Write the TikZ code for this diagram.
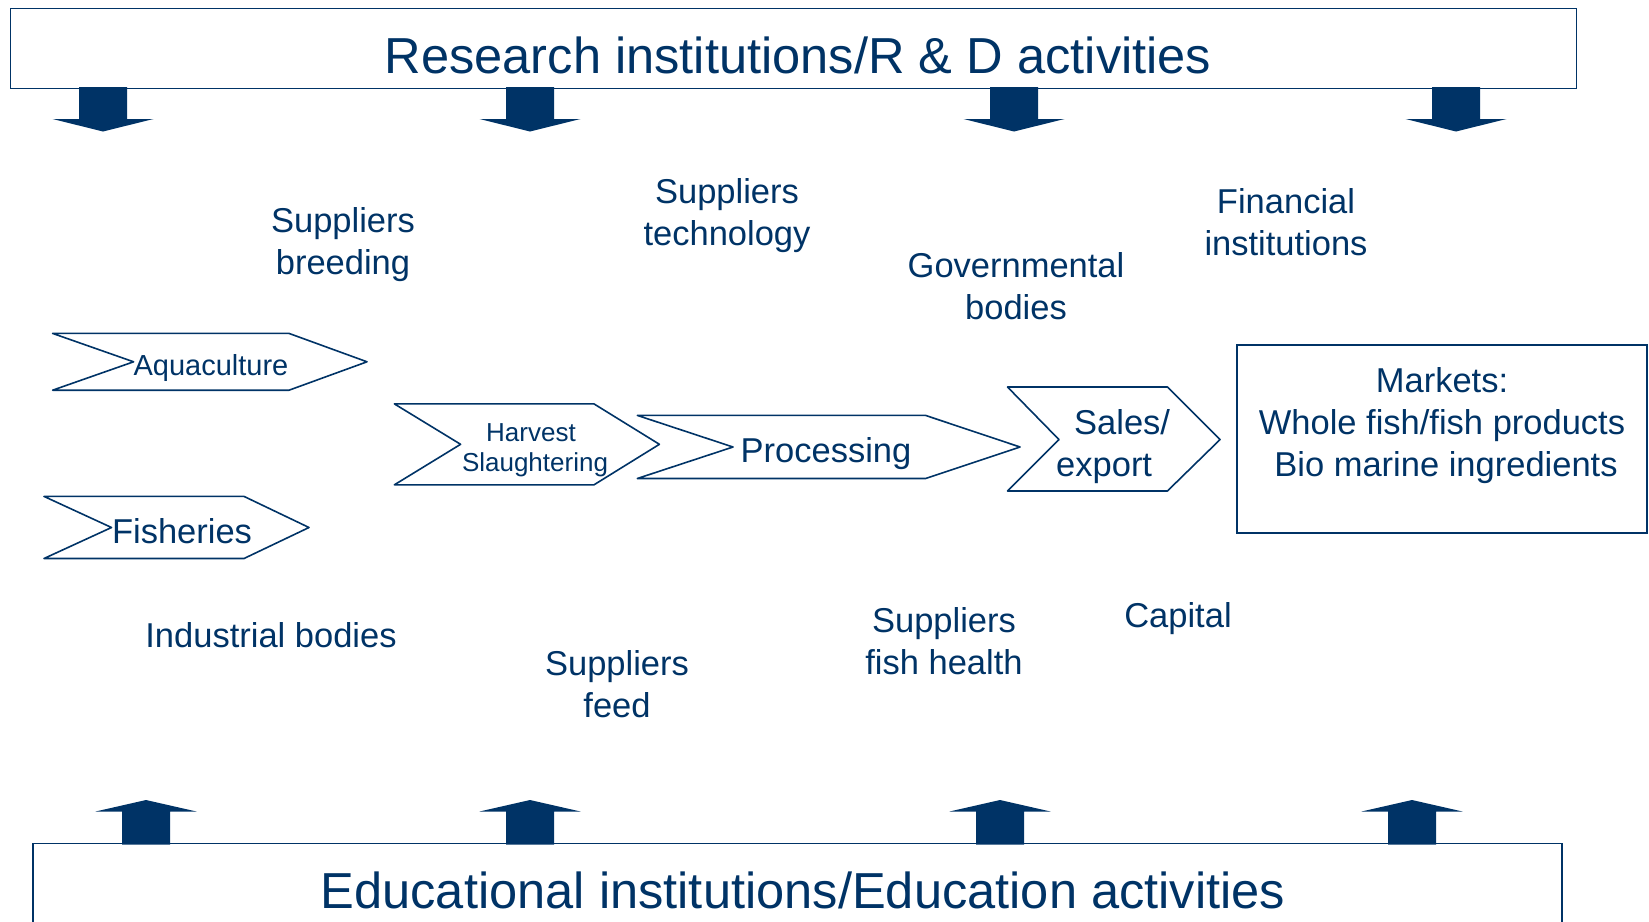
\documentclass[tikz,border=0pt]{standalone}
\usepackage{fontspec}
\setmainfont{Liberation Sans}
\usetikzlibrary{positioning}
\definecolor{navy}{RGB}{0,51,102}
\begin{document}
\begin{tikzpicture}[
  x=1pt, y=-1pt,
  bigbox/.style={
    draw=navy,
    line width=1.6pt,
    inner sep=0pt
  },
  title/.style={
    text=navy,
    inner sep=0pt,
    font=\fontsize{50.6}{60}\selectfont
  },
  chevron/.style={draw=navy, line width=1.6pt, line join=round},
  stage/.style={
    text=navy,
    align=center,
    inner sep=0pt,
    font=\fontsize{34.5}{42}\selectfont
  },
  actor/.style={
    text=navy,
    align=center,
    inner sep=0pt,
    font=\fontsize{34.5}{42}\selectfont
  },
  blockarrow/.style={fill=navy}
]
\useasboundingbox (0,0) rectangle (1649,921);

% frame boxes
\node[bigbox, minimum width=1566pt, minimum height=80pt] (research) at (793.5,48.4) {};
\node[title] (researchtext) at (798,55) {Research institutions/R \& D activities};
\node[bigbox, minimum width=1529pt, minimum height=100pt] (education) at (797.2,893.5) {};
\node[title] (educationtext) at (803,890) {Educational institutions/Education activities};

% block arrows
\foreach \c in {103,530,1014,1456}
  \fill[blockarrow] (\c-24,87) -- (\c+24,87) -- (\c+24,119) -- (\c+50.5,119)
    -- (\c,131.5) -- (\c-50.5,119) -- (\c-24,119) -- cycle;
\foreach \c in {146,530,1000,1412}
  \fill[blockarrow] (\c-24,844.5) -- (\c-24,811.5) -- (\c-50.5,811.5)
    -- (\c,800) -- (\c+50.5,811.5) -- (\c+24,811.5) -- (\c+24,844.5) -- cycle;

% value chain
\draw[chevron] (52.6,333.4) -- (289,333.4) -- (367,361.8) -- (289,390.2) -- (52.6,390.2) -- (133.6,361.8) -- cycle;
\node[stage, font=\fontsize{29}{34}\selectfont] (aquaculture) at (211,368) {Aquaculture};
\draw[chevron] (44,496.4) -- (244,496.4) -- (309,527.5) -- (244,558.5) -- (44,558.5) -- (111.5,527.5) -- cycle;
\node[stage] (fisheries) at (182,531) {Fisheries};
\draw[chevron] (394.4,403.9) -- (594,403.9) -- (659.4,444.3) -- (594,484.8) -- (394.4,484.8) -- (460.6,444.3) -- cycle;
\node[stage, font=\fontsize{26}{30.5}\selectfont] (harvest) at (531,450) {Harvest\\ \hspace*{8pt}Slaughtering};
\draw[chevron] (637.3,415.4) -- (925.5,415.4) -- (1020,447) -- (925.5,478.5) -- (637.3,478.5) -- (733,447) -- cycle;
\node[stage] (processing) at (826,454) {Processing};
\draw[chevron] (1007.5,387) -- (1167.4,387) -- (1220,439.6) -- (1167.4,491) -- (1007.5,491) -- (1059,439.6) -- cycle;
\node[stage, align=left, anchor=west] (sales) at (1056,447) {\hspace*{18pt}Sales/\\export};

\node[bigbox, minimum width=410pt, minimum height=188pt] (markets) at (1442,439) {};
\node[actor] (marketstext) at (1442,426) {Markets:\\Whole fish/fish products\\ \hspace*{8pt}Bio marine ingredients};

% actors around the chain
\node[actor] (breeding) at (343,245) {Suppliers\\breeding};
\node[actor] (technology) at (727,216) {Suppliers\\technology};
\node[actor] (governmental) at (1016,286) {Governmental\\bodies};
\node[actor] (financial) at (1286,222) {Financial\\institutions};
\node[actor] (industrial) at (271,635) {Industrial bodies};
\node[actor] (feed) at (617,684.6) {Suppliers\\feed};
\node[actor] (fishhealth) at (944,641.5) {Suppliers\\fish health};
\node[actor] (capital) at (1178,619) {Capital};
\end{tikzpicture}
\end{document}
